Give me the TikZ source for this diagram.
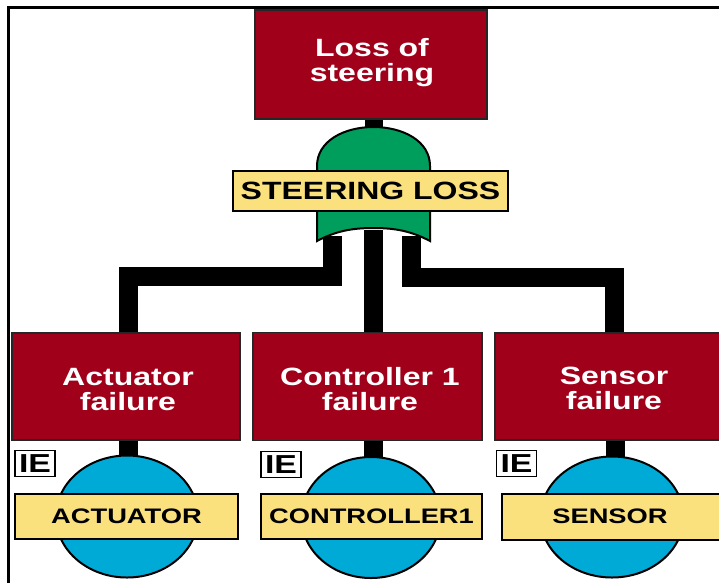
\documentclass[tikz,border=0pt]{standalone}
\usepackage{fontspec}
\setmainfont{Liberation Sans}
\usetikzlibrary{calc,shapes.geometric}
\definecolor{boxred}{RGB}{160,0,26}
\definecolor{gategreen}{RGB}{0,158,92}
\definecolor{labyellow}{RGB}{250,225,125}
\definecolor{evblue}{RGB}{0,170,215}
\newcommand{\hstretch}[2]{\scalebox{#1}[1]{#2}}
\tikzset{
  evbox/.style={draw=black!85, line width=1.6pt, fill=boxred, inner sep=0pt},
  evtext/.style={text=white, inner sep=0pt, font=\bfseries\fontsize{25}{23}\selectfont},
  gatelab/.style={draw=black, line width=2pt, fill=labyellow, inner sep=0pt,
    font=\bfseries\fontsize{25}{25}\selectfont},
  evlab/.style={draw=black, line width=2pt, fill=labyellow, inner sep=0pt,
    font=\bfseries\fontsize{21}{21}\selectfont},
  iebox/.style={draw=black, line width=1.6pt, fill=white, inner sep=0pt,
    minimum width=40pt, minimum height=26pt, font=\bfseries\fontsize{26}{26}\selectfont},
  basic/.style={draw=black, line width=2pt, fill=evblue, ellipse, inner sep=0pt},
  wire/.style={line width=19pt, black, line join=miter, line cap=butt},
  frameline/.style={line width=3pt, black}
}
\begin{document}
\begin{tikzpicture}[x=1pt,y=-1pt]
\useasboundingbox (0,0) rectangle (719,582);
% frame
\draw[frameline] (7,7) -- (721,7);
\draw[frameline] (8.5,7) -- (8.5,584);

% top event
\node[evbox, minimum width=232pt, minimum height=109pt] (top) at (371,64.5) {};
\node[evtext] (topT) at ($(top.center)+(1,-1)$)
  {\hstretch{1.28}{\begin{tabular}{@{}c@{}}Loss of\\steering\end{tabular}}};

% intermediate events
\node[evbox, minimum width=228pt, minimum height=107pt] (act) at (126,386.5) {};
\node[evbox, minimum width=229pt, minimum height=108pt] (ctl) at (367.5,386.5) {};
\node[evbox, minimum width=240pt, minimum height=107pt] (sen) at (615,386.5) {};
\node[evtext] (actT) at ($(act.center)+(2,6)$)
  {\hstretch{1.28}{\begin{tabular}{@{}c@{}}Actuator\\failure\end{tabular}}};
\node[evtext] (ctlT) at ($(ctl.center)+(2.5,6)$)
  {\hstretch{1.28}{\begin{tabular}{@{}c@{}}Controller 1\\failure\end{tabular}}};
\node[evtext] (senT) at ($(sen.center)+(-1,5)$)
  {\hstretch{1.28}{\begin{tabular}{@{}c@{}}Sensor\\failure\end{tabular}}};

% gate coordinates
\coordinate (gtop) at (373.5,127);
\coordinate (gL) at (332,236);
\coordinate (gC) at (373.5,230);
\coordinate (gR) at (411,236);

% wires (behind gate)
\draw[line width=18pt, black] (top.south -| gtop) -- ($(gtop)+(0,6)$);
\draw[wire] (gL) -- (332,276) -| ($(act.north)+(2.5,0)$);
\draw[wire] (gC) -- (gC |- ctl.north);
\draw[wire] (gR) -- (411,277) -| ($(sen.north)+(-0.5,0)$);

% OR gate
\draw[line width=2pt, black, fill=gategreen, line join=miter]
  (317,166) .. controls (317,141) and (344,127) .. (gtop)
  .. controls (403,127) and (430,141) .. (430,166)
  -- (430,241)
  .. controls (411,231) and (395,228) .. (373.5,228)
  .. controls (352,228) and (336,231) .. (317,241) -- cycle;
\node[gatelab, minimum width=275pt, minimum height=40pt] (glab) at (370.5,190.5)
  {\hstretch{1.28}{STEERING LOSS}};

% stems to basic events
\draw[line width=19pt, black] ($(act.south)+(2.5,0)$) -- ++(0,22);
\draw[line width=19pt, black] (ctl.south -| gC) -- ++(0,22);
\draw[line width=19pt, black] ($(sen.south)+(0,0)$) -- ++(0,22);

% basic events
\node[basic, minimum width=142pt, minimum height=122pt] (aev) at (127,516.5) {};
\node[basic, minimum width=139pt, minimum height=121pt] (cev) at (371,517.5) {};
\node[basic, minimum width=143pt, minimum height=121pt] (sev) at (612,517) {};

\node[evlab, minimum width=223pt, minimum height=45pt] (alab) at (126.5,516)
  {\hstretch{1.3}{ACTUATOR}};
\node[evlab, minimum width=221pt, minimum height=45pt] (clab) at (371.5,516)
  {\hstretch{1.3}{CONTROLLER1}};
\node[evlab, minimum width=219pt, minimum height=46pt] (slab) at (611.5,516.5)
  {\hspace*{-1pt}\hstretch{1.3}{SENSOR}\hspace*{2pt}};

% IE markers
\node[iebox] (aie) at (35,463.5) {\hstretch{1.3}{IE}};
\node[iebox] (cie) at (281,464.5) {\hstretch{1.3}{IE}};
\node[iebox] (sie) at (516.5,463.5) {\hstretch{1.3}{IE}};
\end{tikzpicture}
\end{document}
